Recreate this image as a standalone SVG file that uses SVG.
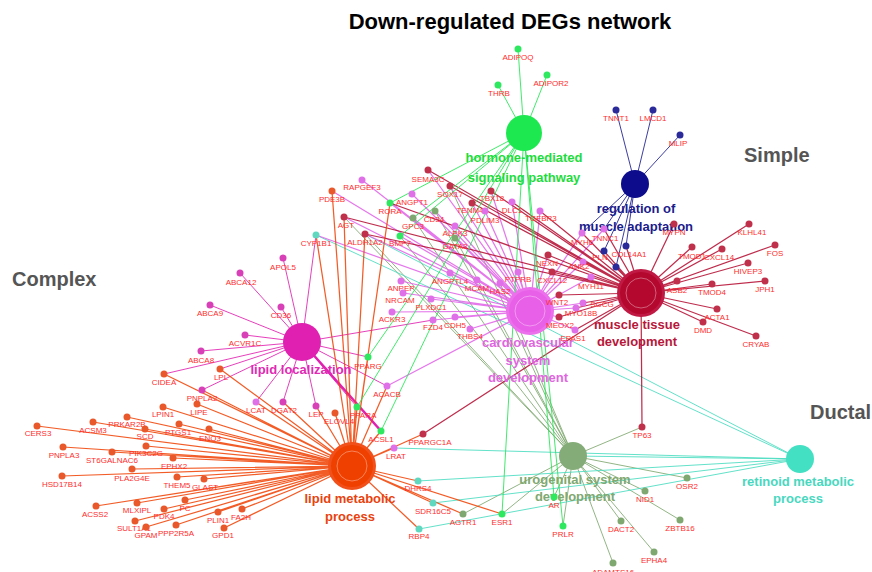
<svg xmlns="http://www.w3.org/2000/svg" width="872" height="572" viewBox="0 0 872 572">
<style>
text{font-family:"Liberation Sans",Arial,sans-serif}
.title{font-size:22px;font-weight:bold;fill:#000}
.cat{font-size:20px;font-weight:bold;fill:#555}
.hl{font-size:13px;font-weight:bold;text-anchor:middle}
.gl{font-size:8px;fill:#ff2d2d;text-anchor:middle}
.e{fill:none;stroke-width:1;stroke-opacity:.85}
.ew{stroke-width:1.25}
.gh{fill:#2ee860}.gr{fill:#2a2a9a}.gm{fill:#c0304a}.gc{fill:#e070e8}.gl2{fill:#d840b8}.gp{fill:#e8582a}.gu{fill:#7fa870}.gt{fill:#60d8c0}
.ring{fill:none;stroke:#fff;stroke-opacity:.45;stroke-width:.8}
</style>
<rect width="872" height="572" fill="#fff"/>
<text class="title" x="510" y="29" text-anchor="middle">Down-regulated DEGs network</text>
<text class="cat" x="12" y="286">Complex</text>
<text class="cat" x="744" y="162">Simple</text>
<text class="cat" x="810" y="419">Ductal</text>
<g id="connectors">
<path class="e" stroke="#7fa870" d="M573 456L642 427M573 456L687 478M573 456L645 491M573 456L621 521M573 456L680 520M573 456L654 552M573 456L613 563M573 456L554 497M573 456L563 526M573 456L463 514M573 456L502 514M573 456L344 217M573 456L365 234M573 456L400 236M573 456L413 218M573 456L435 211M573 456L455 238M573 456L450 186M573 456L500 283"/>
<path class="e" stroke="#48dcc0" d="M800 459L394 448M800 459L418 481M800 459L433 503M800 459L419 529M800 459L316 235M800 459L365 234M800 459L573 456"/>
<path class="e ew" stroke="#e060e8" d="M530 311L362 180M530 311L332 191M530 311L316 235M530 311L428 170M530 311L450 186M530 311L412 194M530 311L435 211M530 311L413 218M530 311L455 226M530 311L455 238M530 311L400 236M530 311L491 191M530 311L472 203M530 311L485 211M530 311L512 202M530 311L540 211M530 311L450 273M530 311L477 280M530 311L500 283M530 311L518 272M530 311L401 281M530 311L403 293M530 311L431 299M530 311L392 312M530 311L433 320M530 311L455 317M530 311L470 329M530 311L548 255M530 311L552 272M530 311L583 262M530 311L591 277M530 311L559 295M530 311L576 308M530 311L583 303M530 311L559 317M530 311L575 330M530 311L582 233M530 311L604 229M530 311L387 386M530 311L344 217M530 311L390 203M530 311L365 234"/>
<path class="e ew" stroke="#b4082e" d="M641 293L674 224M641 293L749 224M641 293L692 247M641 293L722 249M641 293L775 245M641 293L748 263M641 293L677 281M641 293L712 284M641 293L765 281M641 293L717 309M641 293L703 322M641 293L756 336M641 293L642 427M641 293L575 330M641 293L559 317M641 293L576 308M641 293L583 303M641 293L559 295M641 293L591 277M641 293L552 272M641 293L548 255M641 293L583 262M641 293L582 233M641 293L604 229M641 293L604 251M641 293L626 246M641 293L616 267M641 293L491 191M641 293L472 203M641 293L450 186M641 293L428 170M641 293L344 217M641 293L365 234M641 293L390 203M641 293L423 434M641 293L540 211M641 293L512 202"/>
<path class="e" stroke="#1a1a90" d="M635 184L616 110M635 184L653 110M635 184L680 135M635 184L582 233M635 184L604 229M635 184L604 251M635 184L626 246M635 184L616 267"/>
<path class="e" stroke="#e020b0" d="M302 342L283 258M302 342L240 273M302 342L210 305M302 342L281 307M302 342L245 335M302 342L201 351M302 342L164 374M302 342L220 369M302 342L202 390M302 342L256 402M302 342L283 402M302 342L316 406M302 342L368 357M302 342L387 386M302 342L357 407M302 342L316 235M302 342L433 320"/>
<path stroke="#e020b0" stroke-width="2.5" fill="none" d="M302 342L381 431"/>
<path class="e ew" stroke="#f04000" d="M352 466L37 426M352 466L93 422M352 466L127 417M352 466L163 407M352 466L145 429M352 466L179 424M352 466L209 429M352 466L63 447M352 466L112 452M352 466L146 446M352 466L173 458M352 466L62 476M352 466L132 469M352 466L177 477M352 466L204 479M352 466L96 506M352 466L137 503M352 466L185 500M352 466L164 509M352 466L135 521M352 466L146 527M352 466L176 525M352 466L218 512M352 466L242 509M352 466L224 528M352 466L164 374M352 466L220 369M352 466L202 390M352 466L197 404M352 466L256 402M352 466L283 402M352 466L316 406M352 466L335 413M352 466L357 407M352 466L381 431M352 466L394 448M352 466L423 434M352 466L418 481M352 466L433 503M352 466L419 529M352 466L502 514M352 466L463 514M352 466L332 191M352 466L344 217M352 466L365 234M352 466L390 203M352 466L316 235M352 466L368 357M352 466L387 386"/>
<path class="e" stroke="#1ee850" d="M524 133L518 49M524 133L547 75M524 133L498 85M524 133L390 203M524 133L400 236M524 133L413 218M524 133L368 357M524 133L357 407M524 133L381 431M524 133L502 514M524 133L554 497M524 133L563 526"/>
</g>
<g id="hub-hormone"><circle cx="524" cy="133" r="18" fill="#1ee850"/><text class="hl" fill="#1edc3c" x="524" y="162">hormone-mediated</text><text class="hl" fill="#1edc3c" x="524" y="182">signaling pathway</text></g>
<g id="hub-regulation"><circle cx="635" cy="184" r="14" fill="#0c0c8c"/><text class="hl" fill="#1c1c8c" x="636" y="213">regulation of</text><text class="hl" fill="#1c1c8c" x="636" y="231">muscle adaptation</text></g>
<g id="hub-muscle"><circle cx="641" cy="293" r="24" fill="#c01a44"/><circle cx="641" cy="293" r="21" fill="#b4082e"/><circle class="ring" cx="641" cy="293" r="15"/><text class="hl" fill="#b8173a" x="637" y="329">muscle tissue</text><text class="hl" fill="#b8173a" x="637" y="346">development</text></g>
<g id="hub-cardio"><circle cx="530" cy="311" r="24" fill="#ec70ec"/><circle cx="530" cy="311" r="21" fill="#e860e8"/><circle class="ring" cx="530" cy="311" r="15"/><text class="hl" fill="#e066e0" x="528" y="347">cardiovascular</text><text class="hl" fill="#e066e0" x="528" y="365">system</text><text class="hl" fill="#e066e0" x="528" y="382">development</text></g>
<g id="hub-lipidloc"><circle cx="302" cy="342" r="19" fill="#e020b0"/><text class="hl" fill="#e02ab4" x="301" y="374">lipid localization</text></g>
<g id="hub-lipidmet"><circle cx="352" cy="466" r="24" fill="#f2501a"/><circle cx="352" cy="466" r="21" fill="#f04000"/><circle class="ring" cx="352" cy="466" r="15"/><text class="hl" fill="#e8420e" x="350" y="503">lipid metabolic</text><text class="hl" fill="#e8420e" x="350" y="521">process</text></g>
<g id="hub-urogenital"><circle cx="573" cy="456" r="14" fill="#84ac78"/><text class="hl" fill="#80a870" x="575" y="484">urogenital system</text><text class="hl" fill="#80a870" x="575" y="501">development</text></g>
<g id="hub-retinoid"><circle cx="800" cy="459" r="14" fill="#44e0c4"/><text class="hl" fill="#48d8c0" x="798" y="486">retinoid metabolic</text><text class="hl" fill="#48d8c0" x="798" y="503">process</text></g>
<g id="n-ADIPOQ"><circle class="gh" cx="518" cy="49" r="3.5"/><text class="gl" x="518" y="60">ADIPOQ</text></g>
<g id="n-ADIPOR2"><circle class="gh" cx="547" cy="75" r="3.5"/><text class="gl" x="551" y="86">ADIPOR2</text></g>
<g id="n-THRB"><circle class="gh" cx="498" cy="85" r="3.5"/><text class="gl" x="499" y="96">THRB</text></g>
<g id="n-TNNT1"><circle class="gr" cx="616" cy="110" r="3.5"/><text class="gl" x="616" y="121">TNNT1</text></g>
<g id="n-LMCD1"><circle class="gr" cx="653" cy="110" r="3.5"/><text class="gl" x="653" y="121">LMCD1</text></g>
<g id="n-MLIP"><circle class="gr" cx="680" cy="135" r="3.5"/><text class="gl" x="678" y="146">MLIP</text></g>
<g id="n-APOL5"><circle class="gl2" cx="283" cy="258" r="3.5"/><text class="gl" x="283" y="270">APOL5</text></g>
<g id="n-ABCA12"><circle class="gl2" cx="240" cy="273" r="3.5"/><text class="gl" x="241" y="285">ABCA12</text></g>
<g id="n-ABCA9"><circle class="gl2" cx="210" cy="305" r="3.5"/><text class="gl" x="210" y="316">ABCA9</text></g>
<g id="n-CD36"><circle class="gl2" cx="281" cy="307" r="3.5"/><text class="gl" x="281" y="318">CD36</text></g>
<g id="n-ACVR1C"><circle class="gl2" cx="245" cy="335" r="3.5"/><text class="gl" x="245" y="346">ACVR1C</text></g>
<g id="n-ABCA8"><circle class="gl2" cx="201" cy="351" r="3.5"/><text class="gl" x="201" y="363">ABCA8</text></g>
<g id="n-CIDEA"><circle class="gp" cx="164" cy="374" r="3.5"/><text class="gl" x="164" y="385">CIDEA</text></g>
<g id="n-LPL"><circle class="gp" cx="220" cy="369" r="3.5"/><text class="gl" x="221" y="380">LPL</text></g>
<g id="n-PNPLA2"><circle class="gl2" cx="202" cy="390" r="3.5"/><text class="gl" x="202" y="401">PNPLA2</text></g>
<g id="n-LIPE"><circle class="gp" cx="197" cy="404" r="3.5"/><text class="gl" x="199" y="415">LIPE</text></g>
<g id="n-LCAT"><circle class="gc" cx="256" cy="402" r="3.5"/><text class="gl" x="256" y="413">LCAT</text></g>
<g id="n-DGAT2"><circle class="gl2" cx="283" cy="402" r="3.5"/><text class="gl" x="284" y="413">DGAT2</text></g>
<g id="n-LEP"><circle class="gl2" cx="316" cy="406" r="3.5"/><text class="gl" x="316" y="417">LEP</text></g>
<g id="n-ELOVL4"><circle class="gp" cx="335" cy="413" r="3.5"/><text class="gl" x="339" y="424">ELOVL4</text></g>
<g id="n-PPARA"><circle class="gh" cx="357" cy="407" r="3.5"/><text class="gl" x="363" y="418">PPARA</text></g>
<g id="n-ACACB"><circle class="gc" cx="387" cy="386" r="3.5"/><text class="gl" x="387" y="397">ACACB</text></g>
<g id="n-PPARG"><circle class="gh" cx="368" cy="357" r="3.5"/><text class="gl" x="368" y="369">PPARG</text></g>
<g id="n-ACSL1"><circle class="gh" cx="381" cy="431" r="3.5"/><text class="gl" x="381" y="442">ACSL1</text></g>
<g id="n-LRAT"><circle class="gc" cx="394" cy="448" r="3.5"/><text class="gl" x="396" y="459">LRAT</text></g>
<g id="n-PPARGC1A"><circle class="gm" cx="423" cy="434" r="3.5"/><text class="gl" x="430" y="445">PPARGC1A</text></g>
<g id="n-CERS3"><circle class="gp" cx="37" cy="426" r="3.5"/><text class="gl" x="38" y="436">CERS3</text></g>
<g id="n-ACSM3"><circle class="gp" cx="93" cy="422" r="3.5"/><text class="gl" x="93" y="433">ACSM3</text></g>
<g id="n-PRKAR2B"><circle class="gp" cx="127" cy="417" r="3.5"/><text class="gl" x="127" y="427">PRKAR2B</text></g>
<g id="n-LPIN1"><circle class="gp" cx="163" cy="407" r="3.5"/><text class="gl" x="163" y="417">LPIN1</text></g>
<g id="n-SCD"><circle class="gp" cx="145" cy="429" r="3.5"/><text class="gl" x="145" y="439">SCD</text></g>
<g id="n-PTGS1"><circle class="gp" cx="179" cy="424" r="3.5"/><text class="gl" x="178" y="435">PTGS1</text></g>
<g id="n-ENO3"><circle class="gp" cx="209" cy="429" r="3.5"/><text class="gl" x="210" y="441">ENO3</text></g>
<g id="n-PNPLA3"><circle class="gp" cx="63" cy="447" r="3.5"/><text class="gl" x="64" y="458">PNPLA3</text></g>
<g id="n-ST6GALNAC6"><circle class="gp" cx="112" cy="452" r="3.5"/><text class="gl" x="112" y="463">ST6GALNAC6</text></g>
<g id="n-PIK3C2G"><circle class="gp" cx="146" cy="446" r="3.5"/><text class="gl" x="146" y="456">PIK3C2G</text></g>
<g id="n-EPHX2"><circle class="gp" cx="173" cy="458" r="3.5"/><text class="gl" x="174" y="469">EPHX2</text></g>
<g id="n-HSD17B14"><circle class="gp" cx="62" cy="476" r="3.5"/><text class="gl" x="62" y="487">HSD17B14</text></g>
<g id="n-PLA2G4E"><circle class="gp" cx="132" cy="469" r="3.5"/><text class="gl" x="132" y="481">PLA2G4E</text></g>
<g id="n-THEM5"><circle class="gp" cx="177" cy="477" r="3.5"/><text class="gl" x="177" y="488">THEM5</text></g>
<g id="n-GLAST"><circle class="gp" cx="204" cy="479" r="3.5"/><text class="gl" x="205" y="490">GLAST</text></g>
<g id="n-ACSS2"><circle class="gp" cx="96" cy="506" r="3.5"/><text class="gl" x="95" y="517">ACSS2</text></g>
<g id="n-MLXIPL"><circle class="gp" cx="137" cy="503" r="3.5"/><text class="gl" x="137" y="513">MLXIPL</text></g>
<g id="n-PC"><circle class="gp" cx="185" cy="500" r="3.5"/><text class="gl" x="185" y="511">PC</text></g>
<g id="n-PDK4"><circle class="gp" cx="164" cy="509" r="3.5"/><text class="gl" x="164" y="519">PDK4</text></g>
<g id="n-SULT1A1"><circle class="gp" cx="135" cy="521" r="3.5"/><text class="gl" x="134" y="531">SULT1A1</text></g>
<g id="n-GPAM"><circle class="gp" cx="146" cy="527" r="3.5"/><text class="gl" x="146" y="538">GPAM</text></g>
<g id="n-PPP2R5A"><circle class="gp" cx="176" cy="525" r="3.5"/><text class="gl" x="176" y="536">PPP2R5A</text></g>
<g id="n-PLIN1"><circle class="gp" cx="218" cy="512" r="3.5"/><text class="gl" x="218" y="523">PLIN1</text></g>
<g id="n-FA2H"><circle class="gp" cx="242" cy="509" r="3.5"/><text class="gl" x="241" y="520">FA2H</text></g>
<g id="n-GPD1"><circle class="gp" cx="224" cy="528" r="3.5"/><text class="gl" x="223" y="538">GPD1</text></g>
<g id="n-DHRS4"><circle class="gt" cx="418" cy="481" r="3.5"/><text class="gl" x="418" y="491">DHRS4</text></g>
<g id="n-SDR16C5"><circle class="gt" cx="433" cy="503" r="3.5"/><text class="gl" x="433" y="514">SDR16C5</text></g>
<g id="n-RBP4"><circle class="gt" cx="419" cy="529" r="3.5"/><text class="gl" x="419" y="539">RBP4</text></g>
<g id="n-AGTR1"><circle class="gu" cx="463" cy="514" r="3.5"/><text class="gl" x="463" y="525">AGTR1</text></g>
<g id="n-ESR1"><circle class="gh" cx="502" cy="514" r="3.5"/><text class="gl" x="502" y="525">ESR1</text></g>
<g id="n-AR"><circle class="gh" cx="554" cy="497" r="3.5"/><text class="gl" x="554" y="508">AR</text></g>
<g id="n-PRLR"><circle class="gh" cx="563" cy="526" r="3.5"/><text class="gl" x="563" y="537">PRLR</text></g>
<g id="n-TP63"><circle class="gm" cx="642" cy="427" r="3.5"/><text class="gl" x="642" y="438">TP63</text></g>
<g id="n-OSR2"><circle class="gu" cx="687" cy="478" r="3.5"/><text class="gl" x="687" y="489">OSR2</text></g>
<g id="n-NID1"><circle class="gu" cx="645" cy="491" r="3.5"/><text class="gl" x="645" y="502">NID1</text></g>
<g id="n-DACT2"><circle class="gu" cx="621" cy="521" r="3.5"/><text class="gl" x="621" y="532">DACT2</text></g>
<g id="n-ZBTB16"><circle class="gu" cx="680" cy="520" r="3.5"/><text class="gl" x="680" y="531">ZBTB16</text></g>
<g id="n-EPHA4"><circle class="gu" cx="654" cy="552" r="3.5"/><text class="gl" x="654" y="563">EPHA4</text></g>
<g id="n-ADAMTS16"><circle class="gu" cx="613" cy="563" r="3.5"/><text class="gl" x="613" y="575">ADAMTS16</text></g>
<g id="n-MYPN"><circle class="gm" cx="674" cy="224" r="3.5"/><text class="gl" x="674" y="235">MYPN</text></g>
<g id="n-KLHL41"><circle class="gm" cx="749" cy="224" r="3.5"/><text class="gl" x="752" y="235">KLHL41</text></g>
<g id="n-TMOD1"><circle class="gm" cx="692" cy="247" r="3.5"/><text class="gl" x="692" y="259">TMOD1</text></g>
<g id="n-CXCL14"><circle class="gm" cx="722" cy="249" r="3.5"/><text class="gl" x="719" y="260">CXCL14</text></g>
<g id="n-FOS"><circle class="gm" cx="775" cy="245" r="3.5"/><text class="gl" x="775" y="256">FOS</text></g>
<g id="n-HIVEP3"><circle class="gm" cx="748" cy="263" r="3.5"/><text class="gl" x="748" y="274">HIVEP3</text></g>
<g id="n-ASB2"><circle class="gm" cx="677" cy="281" r="3.5"/><text class="gl" x="677" y="293">ASB2</text></g>
<g id="n-TMOD4"><circle class="gm" cx="712" cy="284" r="3.5"/><text class="gl" x="712" y="295">TMOD4</text></g>
<g id="n-JPH1"><circle class="gm" cx="765" cy="281" r="3.5"/><text class="gl" x="765" y="292">JPH1</text></g>
<g id="n-ACTA1"><circle class="gm" cx="717" cy="309" r="3.5"/><text class="gl" x="717" y="320">ACTA1</text></g>
<g id="n-DMD"><circle class="gm" cx="703" cy="322" r="3.5"/><text class="gl" x="703" y="333">DMD</text></g>
<g id="n-CRYAB"><circle class="gm" cx="756" cy="336" r="3.5"/><text class="gl" x="756" y="347">CRYAB</text></g>
<g id="n-MYH6"><circle class="gc" cx="582" cy="233" r="3.5"/><text class="gl" x="582" y="245">MYH6</text></g>
<g id="n-TNNC1"><circle class="gc" cx="604" cy="229" r="3.5"/><text class="gl" x="605" y="241">TNNC1</text></g>
<g id="n-PLN"><circle class="gr" cx="604" cy="251" r="3.5"/><text class="gl" x="600" y="260">PLN</text></g>
<g id="n-COL14A1"><circle class="gr" cx="626" cy="246" r="3.5"/><text class="gl" x="629" y="257">COL14A1</text></g>
<g id="n-X1"><circle class="gr" cx="616" cy="267" r="3.5"/></g>
<g id="n-NEXN"><circle class="gm" cx="548" cy="255" r="3.5"/><text class="gl" x="547" y="266">NEXN</text></g>
<g id="n-ANK2"><circle class="gc" cx="583" cy="262" r="3.5"/><text class="gl" x="579" y="269">ANK2</text></g>
<g id="n-CXCL12"><circle class="gm" cx="552" cy="272" r="3.5"/><text class="gl" x="552" y="283">CXCL12</text></g>
<g id="n-MYH11"><circle class="gc" cx="591" cy="277" r="3.5"/><text class="gl" x="591" y="289">MYH11</text></g>
<g id="n-WNT2"><circle class="gm" cx="559" cy="295" r="3.5"/><text class="gl" x="557" y="305">WNT2</text></g>
<g id="n-SGCG"><circle class="gc" cx="583" cy="303" r="3.5"/><text class="gl" x="602" y="307">SGCG</text></g>
<g id="n-MYO18B"><circle class="gc" cx="576" cy="308" r="3.5"/><text class="gl" x="581" y="316">MYO18B</text></g>
<g id="n-MEOX2"><circle class="gm" cx="559" cy="317" r="3.5"/><text class="gl" x="560" y="328">MEOX2</text></g>
<g id="n-EPAS1"><circle class="gc" cx="575" cy="330" r="3.5"/><text class="gl" x="573" y="341">EPAS1</text></g>
<g id="n-TGFBR3"><circle class="gc" cx="540" cy="211" r="3.5"/><text class="gl" x="541" y="221">TGFBR3</text></g>
<g id="n-DLC1"><circle class="gc" cx="512" cy="202" r="3.5"/><text class="gl" x="512" y="213">DLC1</text></g>
<g id="n-TBX18"><circle class="gm" cx="491" cy="191" r="3.5"/><text class="gl" x="492" y="201">TBX18</text></g>
<g id="n-TENM4"><circle class="gm" cx="472" cy="203" r="3.5"/><text class="gl" x="470" y="213">TENM4</text></g>
<g id="n-PDLIM3"><circle class="gc" cx="485" cy="211" r="3.5"/><text class="gl" x="485" y="223">PDLIM3</text></g>
<g id="n-SOX17"><circle class="gm" cx="450" cy="186" r="3.5"/><text class="gl" x="450" y="197">SOX17</text></g>
<g id="n-SEMA3C"><circle class="gm" cx="428" cy="170" r="3.5"/><text class="gl" x="428" y="182">SEMA3C</text></g>
<g id="n-ANGPT1"><circle class="gc" cx="412" cy="194" r="3.5"/><text class="gl" x="412" y="205">ANGPT1</text></g>
<g id="n-RORA"><circle class="gh" cx="390" cy="203" r="3.5"/><text class="gl" x="390" y="214">RORA</text></g>
<g id="n-RAPGEF3"><circle class="gc" cx="362" cy="180" r="3.5"/><text class="gl" x="362" y="190">RAPGEF3</text></g>
<g id="n-PDE3B"><circle class="gp" cx="332" cy="191" r="3.5"/><text class="gl" x="332" y="202">PDE3B</text></g>
<g id="n-AGT"><circle class="gm" cx="344" cy="217" r="3.5"/><text class="gl" x="346" y="228">AGT</text></g>
<g id="n-CYP1B1"><circle class="gt" cx="316" cy="235" r="3.5"/><text class="gl" x="316" y="246">CYP1B1</text></g>
<g id="n-ALDH1A2"><circle class="gm" cx="365" cy="234" r="3.5"/><text class="gl" x="365" y="245">ALDH1A2</text></g>
<g id="n-GPC3"><circle class="gu" cx="413" cy="218" r="3.5"/><text class="gl" x="413" y="229">GPC3</text></g>
<g id="n-CD34"><circle class="gu" cx="435" cy="211" r="3.5"/><text class="gl" x="434" y="222">CD34</text></g>
<g id="n-BMP7"><circle class="gh" cx="400" cy="236" r="3.5"/><text class="gl" x="400" y="246">BMP7</text></g>
<g id="n-ALPK3"><circle class="gc" cx="455" cy="226" r="3.5"/><text class="gl" x="455" y="236">ALPK3</text></g>
<g id="n-GATA3"><circle class="gu" cx="455" cy="238" r="3.5"/><text class="gl" x="455" y="249">GATA3</text></g>
<g id="n-ANGPTL4"><circle class="gc" cx="450" cy="273" r="3.5"/><text class="gl" x="450" y="284">ANGPTL4</text></g>
<g id="n-MCAM"><circle class="gc" cx="477" cy="280" r="3.5"/><text class="gl" x="477" y="291">MCAM</text></g>
<g id="n-HAS2"><circle class="gc" cx="500" cy="283" r="3.5"/><text class="gl" x="500" y="294">HAS2</text></g>
<g id="n-PTPRB"><circle class="gc" cx="518" cy="272" r="3.5"/><text class="gl" x="518" y="282">PTPRB</text></g>
<g id="n-ANPEP"><circle class="gc" cx="401" cy="281" r="3.5"/><text class="gl" x="401" y="291">ANPEP</text></g>
<g id="n-NRCAM"><circle class="gc" cx="403" cy="293" r="3.5"/><text class="gl" x="400" y="303">NRCAM</text></g>
<g id="n-PLXDC1"><circle class="gc" cx="431" cy="299" r="3.5"/><text class="gl" x="431" y="310">PLXDC1</text></g>
<g id="n-ACKR3"><circle class="gc" cx="392" cy="312" r="3.5"/><text class="gl" x="392" y="322">ACKR3</text></g>
<g id="n-FZD4"><circle class="gc" cx="433" cy="320" r="3.5"/><text class="gl" x="433" y="330">FZD4</text></g>
<g id="n-CDH5"><circle class="gc" cx="455" cy="317" r="3.5"/><text class="gl" x="455" y="328">CDH5</text></g>
<g id="n-THBS4"><circle class="gc" cx="470" cy="329" r="3.5"/><text class="gl" x="470" y="339">THBS4</text></g>
</svg>
